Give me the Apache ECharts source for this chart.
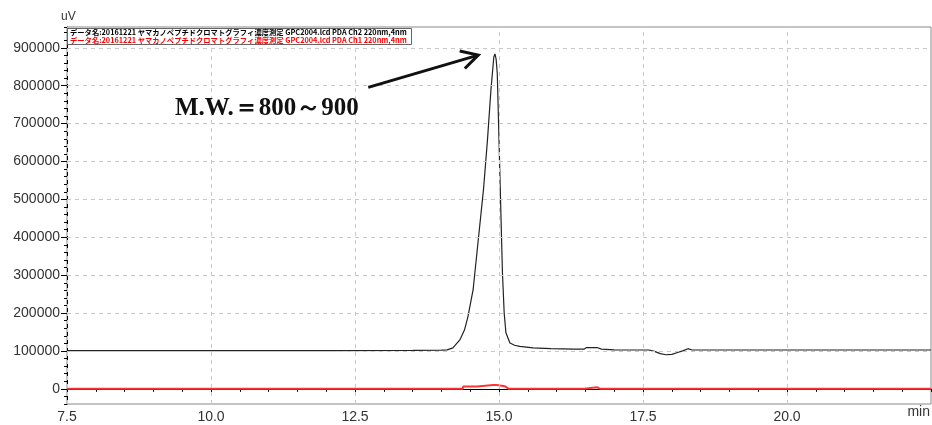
<!DOCTYPE html>
<html>
<head>
<meta charset="utf-8">
<script src="https://cdn.jsdelivr.net/npm/echarts@6/dist/echarts.min.js"></script>
<style>html,body{margin:0;padding:0;background:#fff}#c{width:932px;height:425px}</style>
</head>
<body>
<div id="c"></div>
<script>
// ---- data ----
const timeBlack = [7.5, 12.0, 13.5, 14.0, 14.1, 14.2, 14.32, 14.4, 14.46, 14.55, 14.64, 14.73, 14.80, 14.86, 14.91, 14.93, 14.95, 14.97, 15.00, 15.03, 15.06, 15.09, 15.12, 15.19, 15.27, 15.36, 15.59, 15.9, 16.3, 16.48, 16.52, 16.7, 16.78, 17.0, 17.6, 17.7, 17.8, 17.9, 18.0, 18.1, 18.2, 18.28, 18.35, 19.0, 22.5];
const valBlack  = [101000, 101000, 101500, 102000, 103000, 108000, 129000, 155000, 190000, 261000, 393000, 525000, 657000, 789000, 876000, 884000, 870000, 833000, 657000, 481000, 306000, 200000, 148000, 121000, 115000, 112000, 108000, 106000, 105000, 105000, 109000, 109000, 105000, 103000, 102500, 99000, 93000, 90000, 91000, 96000, 101000, 106000, 102500, 102500, 102500];
const timeRed = [7.5, 14.37, 14.38, 14.62, 14.63, 14.9, 14.93, 14.96, 15.1, 15.17, 16.48, 16.5, 16.7, 16.73, 16.76, 22.5];
const valRed  = [0, 0, 6000, 6000, 9000, 10000, 13000, 10000, 7000, 0, 0, 4500, 4500, 0, 0, 0];
const yLabelValues = [0, 100000, 200000, 300000, 400000, 500000, 600000, 700000, 800000, 900000];
const xGridValues = [7.5, 10, 12.5, 15, 17.5, 20];
const legendTexts = [
  'データ名:20161221 ヤマカノペプチドクロマトグラフィ濃度測定 GPC2004.lcd PDA Ch2 220nm,4nm',
  'データ名:20161221 ヤマカノペプチドクロマトグラフィ濃度測定 GPC2004.lcd PDA Ch1 220nm,4nm'
];
const annotationText = 'M.W.＝800～900';
// annotation anchors in data space
const arrowFrom = [12.73, 795600];
const arrowTo = [14.64, 880800];
const textAt = [9.375, 733000];

const X_MIN = 7.5, X_MAX = 22.5, Y_MIN = -40000, Y_MAX = 955000;

const chart = echarts.init(document.getElementById('c'), null, {renderer: 'canvas'});
const blackData = timeBlack.map((t, i) => [t, valBlack[i]]);
const redData = timeRed.map((t, i) => [t, valRed[i]]);

const gridLineStyle = {color: '#c8c8c8', type: [4, 4], width: 1};

chart.setOption({
  animation: false,
  backgroundColor: '#fff',
  grid: {left: 67, right: 1, top: 27, bottom: 21, show: true, borderColor: '#888', borderWidth: 1,
         containLabel: false, outerBoundsMode: 'none'},
  xAxis: [
    {type: 'value', min: X_MIN, max: X_MAX, interval: 0.5,
     axisLine: {lineStyle: {color: '#000', width: 1}},
     axisTick: {length: 3, lineStyle: {color: '#000'}},
     axisLabel: {show: false}, splitLine: {show: false}},
    {type: 'value', position: 'bottom', min: X_MIN, max: X_MAX, interval: 2.5,
     axisLine: {show: false},
     axisTick: {length: 5, lineStyle: {color: '#000'}},
     axisLabel: {fontSize: 14, color: '#333', fontFamily: 'Liberation Sans, Arial', margin: 6,
       showMaxLabel: false, hideOverlap: false,
       formatter: v => (v > 21 ? '' : v.toFixed(1))},
     splitLine: {show: false}}
  ],
  yAxis: [
    {type: 'value', min: Y_MIN, max: Y_MAX, interval: 20000,
     axisLine: {show: true, lineStyle: {color: '#000', width: 1}},
     axisTick: {show: true, length: 3, lineStyle: {color: '#000'}},
     axisLabel: {show: false}, splitLine: {show: false}},
    {type: 'value', position: 'left', min: Y_MIN, max: Y_MAX,
     axisLine: {show: false},
     axisTick: {show: true, length: 6, customValues: yLabelValues, lineStyle: {color: '#000'}},
     axisLabel: {fontSize: 14, color: '#333', fontFamily: 'Liberation Sans, Arial', margin: 7,
       customValues: yLabelValues, formatter: v => String(v)},
     splitLine: {show: false}}
  ],
  series: [
    {type: 'line', name: 'grid', data: [], silent: true,
     markLine: {silent: true, symbol: 'none', label: {show: false}, lineStyle: gridLineStyle,
       data: yLabelValues.filter(v => v > 0).map(v => ({yAxis: v}))
         .concat(xGridValues.map(v => ({xAxis: v})))}},
    {type: 'line', name: 'Ch1', data: redData, showSymbol: false, symbol: 'none', sampling: null,
     lineStyle: {color: '#ff3333', width: 2}, z: 3},
    {type: 'line', name: 'Ch2', data: blackData, showSymbol: false, symbol: 'none',
     lineStyle: {color: '#222', width: 1.2}, z: 4}
  ]
});

function drawDecor() {
  const p0 = chart.convertToPixel({xAxisIndex: 0, yAxisIndex: 0}, arrowFrom);
  const p1 = chart.convertToPixel({xAxisIndex: 0, yAxisIndex: 0}, arrowTo);
  const pt = chart.convertToPixel({xAxisIndex: 0, yAxisIndex: 0}, textAt);
  const ang = Math.atan2(p1[1] - p0[1], p1[0] - p0[0]);
  const L = 19, spread = 0.5;
  const h1 = [p1[0] - L * Math.cos(ang - spread), p1[1] - L * Math.sin(ang - spread)];
  const h2 = [p1[0] - L * Math.cos(ang + spread), p1[1] - L * Math.sin(ang + spread)];
  const grid = chart.getModel().getComponent('grid').coordinateSystem.getRect();
  chart.setOption({
    graphic: [
      {type: 'line', shape: {x1: p0[0], y1: p0[1], x2: p1[0], y2: p1[1]},
       style: {stroke: '#111', lineWidth: 3}, z: 10},
      {type: 'polyline', shape: {points: [h1, p1, h2]},
       style: {stroke: '#111', lineWidth: 3, fill: null, lineJoin: 'miter'}, z: 10},
      {type: 'text', left: pt[0], top: pt[1] - 15,
       style: {text: annotationText, font: 'bold 25px "Liberation Serif", "Times New Roman", serif', fill: '#111'}, z: 10},
      {type: 'rect', shape: {x: grid.x + 0.5, y: grid.y + 1.5, width: 344, height: 16},
       style: {fill: '#fff', stroke: '#666', lineWidth: 1}, z: 9},
      {type: 'text', left: grid.x + 3, top: grid.y + 2,
       style: {text: legendTexts[0], font: 'bold 7.3px "Noto Sans CJK JP", sans-serif', fill: '#000'}, z: 10},
      {type: 'text', left: grid.x + 3, top: grid.y + 9.5,
       style: {text: legendTexts[1], font: 'bold 7.3px "Noto Sans CJK JP", sans-serif', fill: '#ff0000'}, z: 10},
      {type: 'text', left: grid.x - 6, top: 11,
       style: {text: 'uV', font: '12px "Liberation Sans", Arial', fill: '#333'}, z: 10},
      {type: 'text', right: 2, top: 405,
       style: {text: 'min', font: '14px "Liberation Sans", Arial', fill: '#333'}, z: 10}
    ]
  });
}
drawDecor();
</script>
</body>
</html>
